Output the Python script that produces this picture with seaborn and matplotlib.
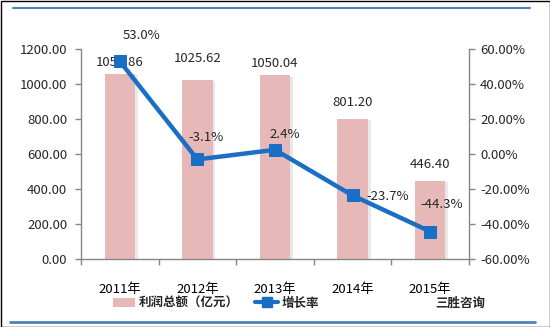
import matplotlib
matplotlib.use("Agg")
import matplotlib.pyplot as plt
import matplotlib.patheffects as pe
from matplotlib.patches import Rectangle, Patch
from matplotlib.lines import Line2D
import seaborn as sns
import pandas as pd

years = ["2011年", "2012年", "2013年", "2014年", "2015年"]
profit = [1058.86, 1025.62, 1050.04, 801.20, 446.40]
growth = [53.0, -3.1, 2.4, -23.7, -44.3]
left_ticks = [0, 200, 400, 600, 800, 1000, 1200]
right_ticks = [-60, -40, -20, 0, 20, 40, 60]
bar_label_off = [11, 21, 12, 16, 16]          # px above bar top
pct_label_off = [(22, 26), (9, 22), (10, 15), (35, -1), (12, 27)]  # px from marker

sns.set_theme(style="white")
plt.rcParams['font.family'] = ['Noto Sans CJK SC', 'DejaVu Sans']

BAR = "#E6B9B8"
LINE = "#1A6FC4"
GRAY = "#868686"
PX = 72 / 100
FS = 9.5

df = pd.DataFrame({"year": years, "profit": profit, "growth": growth})

fig = plt.figure(figsize=(5.5, 3.27), dpi=100)
ax = fig.add_axes([81/550, 1-259/327, (469-81)/550, 210/327])

sns.barplot(data=df, x="year", y="profit", ax=ax, color=BAR, width=0.39,
            saturation=1, edgecolor="none")
for p in ax.patches:
    p.set_path_effects([pe.SimplePatchShadow(offset=(2, -1), shadow_rgbFace="#AAAAAA", alpha=0.25), pe.Normal()])

ax.set_ylim(0, 1200)
ax.set_xlim(-0.5, 4.5)
ax.set_yticks(left_ticks)
ax.set_yticklabels([f"{v:.2f}" for v in left_ticks])
ax.set_xlabel("")
ax.set_ylabel("")
ax.set_xticks(range(len(years)))
ax.set_xticklabels(years)
ax.set_xticks([i - 0.5 for i in range(len(years) + 1)], minor=True)
ax.tick_params(axis="x", which="major", length=0, pad=17, labelsize=FS, colors="#000000")
ax.tick_params(axis="x", which="minor", length=4, width=1, color=GRAY, direction="out", bottom=True)
ax.tick_params(axis="y", length=4, width=1, color=GRAY, direction="out", left=True, labelsize=FS, pad=6)
for s in ["top", "right"]:
    ax.spines[s].set_visible(False)
for s in ["left", "bottom"]:
    ax.spines[s].set_color(GRAY)
    ax.spines[s].set_linewidth(1)

for i, v in enumerate(profit):
    ax.annotate(f"{v:.2f}", (i, v), xytext=(0, bar_label_off[i] * PX), textcoords="offset points",
                ha="center", va="center", fontsize=FS)

ax2 = ax.twinx()
sns.lineplot(data=df, x="year", y="growth", ax=ax2, color=LINE, linewidth=3.2,
             marker="s", markersize=9, markeredgecolor=LINE, sort=False)
ax2.set_ylim(-60, 60)
ax2.set_xlim(-0.5, 4.5)
ax2.set_yticks(right_ticks)
ax2.set_yticklabels([f"{v:.2f}%" for v in right_ticks])
ax2.set_ylabel("")
ax2.set_xlabel("")
ax2.tick_params(axis="y", length=4, width=1, color=GRAY, direction="out", right=True, labelsize=FS, pad=4)
for s in ["top", "left", "bottom"]:
    ax2.spines[s].set_visible(False)
ax2.spines["right"].set_color(GRAY)
ax2.spines["right"].set_linewidth(1)

for i, v in enumerate(growth):
    dx, dy = pct_label_off[i]
    ax2.annotate(f"{v:.1f}%", (i, v), xytext=(dx * PX, dy * PX), textcoords="offset points",
                 ha="center", va="center", fontsize=FS)

# legend
h1 = Patch(facecolor=BAR, edgecolor="none")
h2 = Line2D([0], [0], color=LINE, lw=3, marker="s", markersize=7)
leg = fig.legend([h1, h2], ["利润总额（亿元）", "增长率"], loc="center",
                 bbox_to_anchor=(216/550, 1-303/327), ncol=2, frameon=False,
                 prop={"size": 9, "weight": "bold"}, handlelength=1.8, handletextpad=0.3,
                 columnspacing=1.3, borderpad=0)
fig.text(460/550, 1-303/327, "三胜咨询", ha="center", va="center", fontsize=9, fontweight="bold")

# decorative frame lines
fig.add_artist(Rectangle((0.5/550, 0.5/327), 549/550, 326/327, transform=fig.transFigure,
                         fill=False, edgecolor="#000000", lw=1))
fig.add_artist(Line2D([13/550, 530/550], [1-8/327, 1-8/327], transform=fig.transFigure,
                      color="#4F81BD", lw=1.5))
fig.add_artist(Line2D([10/550, 535/550], [1-322/327, 1-322/327], transform=fig.transFigure,
                      color="#4F81BD", lw=2))

fig.savefig("out.png", dpi=100)
